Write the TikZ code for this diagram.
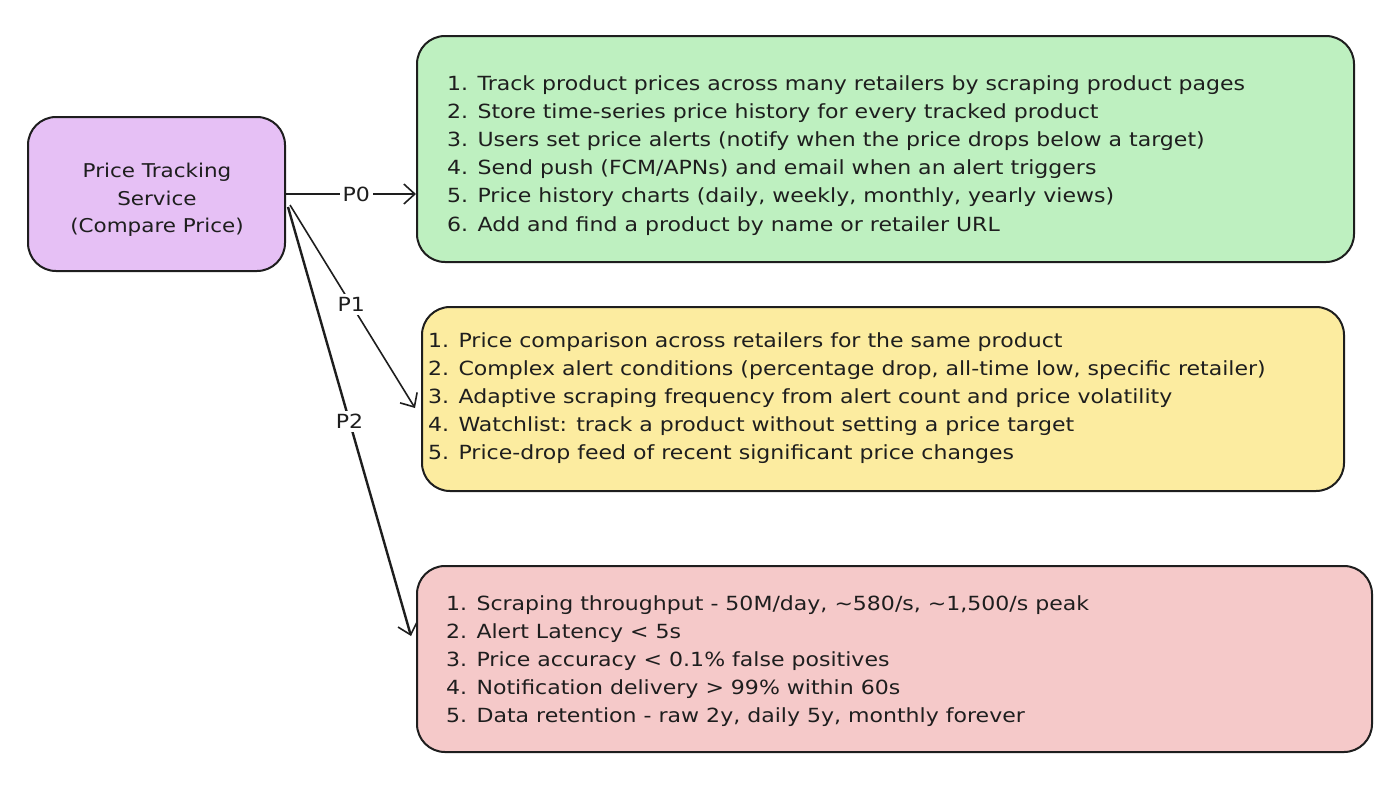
\documentclass[tikz,border=0pt]{standalone}
\usepackage{fontspec}
\setmainfont{DejaVu Sans}[FakeStretch=1.13]
\usetikzlibrary{arrows.meta,calc}
\definecolor{ink}{RGB}{30,30,30}
\definecolor{cpurple}{RGB}{230,192,245}
\definecolor{cgreen}{RGB}{190,240,192}
\definecolor{cyellow}{RGB}{252,236,160}
\definecolor{cred}{RGB}{245,201,201}
\tikzset{
  card/.style={draw=ink, line width=2pt, rounded corners=28pt, inner sep=0pt},
  listtext/.style={anchor=north west, align=left, inner sep=0pt, font=\fontsize{19.5}{28.2}\selectfont, text=ink},
  conn/.style={draw=ink, line width=1.6pt, -{Straight Barb[length=11pt,width=20pt,line width=1.6pt]}},
  plabel/.style={fill=white, inner sep=3pt, font=\fontsize{19.5}{20}\selectfont, text=ink}
}
\begin{document}
\begin{tikzpicture}[x=1pt,y=-1pt]
\useasboundingbox (0,0) rectangle (1390,788);
% boxes
\node[card, fill=cpurple, minimum width=257pt, minimum height=154pt] (pts) at (156.5,194) {};
\node[align=center, inner sep=0pt, font=\fontsize{19}{27.5}\selectfont, text=ink] (ptst) at (157,200) {Price Tracking\\Service\\(Compare Price)};
\node[card, fill=cgreen, minimum width=937pt, minimum height=226pt] (p0) at (885.5,149) {};
\node[card, fill=cyellow, minimum width=922pt, minimum height=184pt] (p1) at (883,399) {};
\node[card, fill=cred, minimum width=955pt, minimum height=186pt] (p2) at (894.5,659) {};
% texts
\node[listtext] (t0) at (447,75) {1. Track product prices across many retailers by scraping product pages\\
2. Store time-series price history for every tracked product\\
3. Users set price alerts (notify when the price drops below a target)\\
4. Send push (FCM/APNs) and email when an alert triggers\\
5. Price history charts (daily, weekly, monthly, yearly views)\\
6. Add and find a product by name or retailer URL};
\node[listtext] (t1) at (428,332) {1. Price comparison across retailers for the same product\\
2. Complex alert conditions (percentage drop, all-time low, specific retailer)\\
3. Adaptive scraping frequency from alert count and price volatility\\
4. Watchlist: track a product without setting a price target\\
5. Price-drop feed of recent significant price changes};
\node[listtext] (t2) at (446,595) {1. Scraping throughput - 50M/day, \textasciitilde580/s, \textasciitilde1,500/s peak\\
2. Alert Latency < 5s\\
3. Price accuracy < 0.1\% false positives\\
4. Notification delivery > 99\% within 60s\\
5. Data retention - raw 2y, daily 5y, monthly forever};
% connectors
\coordinate (s1) at ($(pts.east)+(4,11)$);
\coordinate (s2) at ($(pts.east)+(2,13)$);
\draw[conn] (pts.east) -- (p0.west |- pts.east) node[plabel, pos=0.54] {P0};
\draw[conn] (s1) -- ($(p1.west)+(-6,9)$) node[plabel, pos=0.49] {P1};
\draw[conn, line width=2.4pt] (s2) -- ($(p2.west)+(-5,-23)$) node[plabel, pos=0.5] {P2};
\end{tikzpicture}
\end{document}
